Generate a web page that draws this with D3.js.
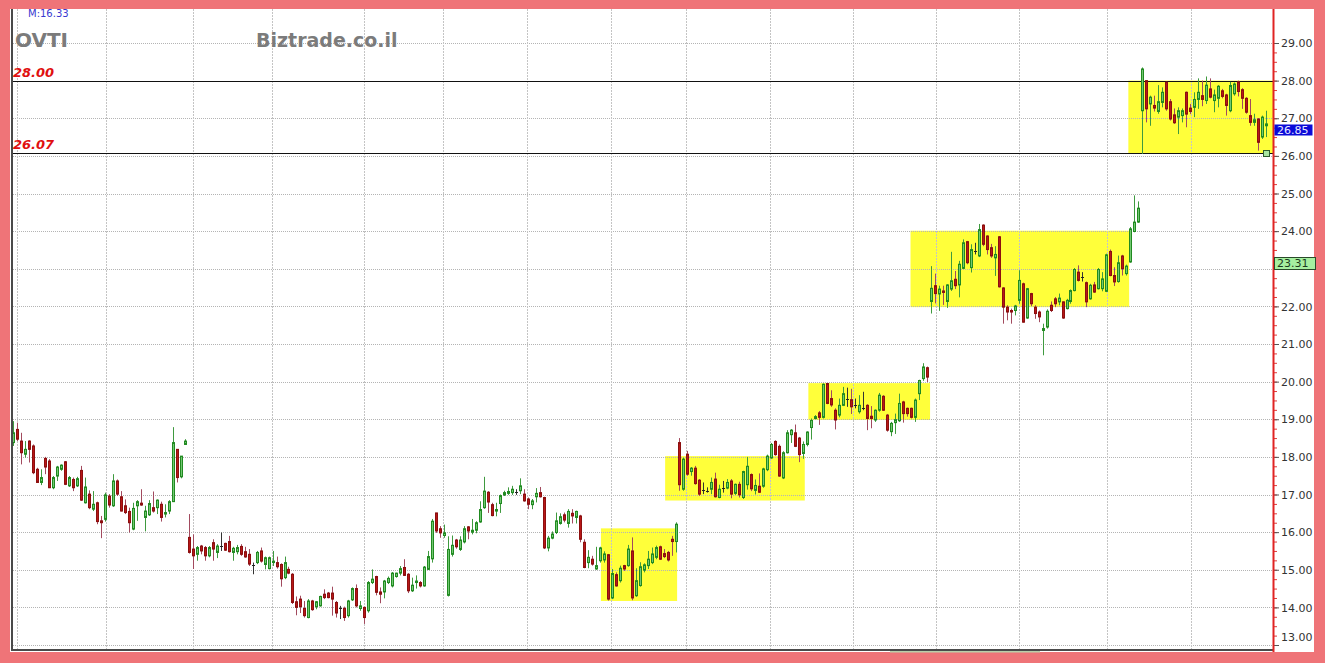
<!DOCTYPE html>
<html><head><meta charset="utf-8">
<script src="https://cdn.jsdelivr.net/npm/d3@7"></script>
<style>html,body{margin:0;padding:0;background:#ef7478;overflow:hidden}</style>
</head><body><svg id="c" width="1325" height="663"></svg>
<script>
// ---------- DATA ----------
const symbol = "OVTI";
const site = "Biztrade.co.il";
const avgLabel = "M:16.33";
const openP = [
18.38,18.73,18.42,18.07,18.42,18.29,17.67,17.32,17.96,17.89,17.18,17.49,17.67,17.87,17.23,17.40,17.23,17.64,16.78,17.01,
16.61,16.78,16.30,16.34,16.96,16.70,17.36,16.94,16.70,16.55,16.08,16.70,16.77,16.39,16.46,16.65,16.65,16.74,16.48,16.56,
16.81,18.20,17.47,18.33,15.86,15.55,15.41,15.63,15.59,15.37,15.72,15.46,15.63,15.70,15.75,15.46,15.48,15.62,15.48,15.41,
15.13,15.19,15.50,15.14,15.03,15.19,15.19,15.14,14.79,15.01,14.88,14.15,14.22,13.97,13.73,14.17,14.02,14.04,14.35,14.38,
14.38,14.13,13.97,13.97,13.78,14.20,14.50,13.97,14.00,13.91,14.66,14.82,14.41,14.41,14.66,14.57,14.82,14.91,15.06,14.88,
14.44,14.66,14.66,14.57,15.01,15.29,16.51,16.09,15.91,14.32,15.41,15.79,15.54,15.74,16.14,16.00,16.05,16.27,16.65,17.06,
16.73,16.56,16.76,16.99,17.03,17.05,17.07,17.10,17.01,16.88,16.73,16.94,17.05,16.92,15.58,15.84,15.99,16.23,16.46,16.23,
16.50,16.39,16.43,15.73,15.19,15.28,15.02,15.24,15.26,15.40,14.25,14.87,14.71,15.11,15.11,15.50,14.31,14.58,14.99,15.11,
15.19,15.33,15.61,15.43,15.46,15.81,15.75,18.38,17.14,18.07,17.61,17.70,17.38,17.13,17.10,17.14,17.41,16.92,17.17,17.17,
17.36,17.03,17.27,16.92,17.26,17.53,17.11,17.22,17.22,17.66,17.97,18.41,18.28,17.44,18.11,18.59,18.64,18.50,18.09,18.33,
18.78,19.02,19.17,19.05,19.95,19.55,19.24,19.11,19.37,19.55,19.52,19.38,19.20,19.31,19.37,19.08,18.98,19.24,19.61,19.11,
18.67,18.91,18.96,19.46,19.29,19.29,19.05,19.68,20.08,20.37,22.13,22.55,22.33,22.41,22.13,22.46,22.72,22.57,23.01,23.72,
23.03,23.49,23.34,24.16,23.87,23.56,23.29,23.85,22.49,21.98,21.89,21.89,22.16,22.60,21.69,22.34,21.98,21.85,21.36,21.45,
22.03,22.20,22.12,22.12,21.94,22.13,22.42,22.91,22.79,22.63,22.20,22.57,22.47,22.47,22.40,23.46,22.82,22.66,23.34,22.87,
23.18,23.99,24.24,27.20,28.00,27.38,27.34,27.18,27.42,27.96,27.44,27.09,27.03,27.07,27.69,27.27,27.29,27.50,27.60,27.47,
27.78,27.47,27.53,27.73,27.62,27.20,27.65,27.97,27.76,27.53,27.07,26.89,26.98,26.50,26.80];
const highP = [
18.95,18.91,18.64,18.42,18.44,18.33,17.71,17.67,18.00,17.94,17.49,17.76,17.80,17.89,17.49,17.45,17.47,17.76,17.45,17.11,
17.09,16.81,16.43,17.05,17.01,17.54,17.40,17.09,16.87,16.65,16.78,16.85,17.14,16.70,16.85,17.08,16.87,16.81,16.74,16.85,
18.79,18.20,18.02,18.47,16.48,15.94,15.63,15.66,15.63,15.63,15.81,15.68,15.99,15.72,15.90,15.61,15.66,15.68,15.61,15.55,
15.19,15.50,15.59,15.35,15.35,15.50,15.35,15.17,15.35,15.08,14.91,14.29,14.31,14.17,14.22,14.20,14.17,14.31,14.48,14.41,
14.55,14.17,14.04,14.02,14.20,14.53,14.61,14.17,14.02,14.70,15.01,14.84,14.53,14.73,14.82,14.94,14.92,15.10,15.28,14.91,
14.79,14.85,14.70,15.10,15.50,16.35,16.51,16.16,16.20,15.89,15.91,15.82,15.89,16.16,16.16,16.35,16.29,16.82,17.47,17.09,
16.78,16.78,17.00,17.10,17.19,17.23,17.14,17.43,17.14,16.92,16.88,17.17,17.20,16.94,15.90,16.02,16.52,16.50,16.52,16.61,
16.61,16.57,16.46,15.81,15.52,15.37,15.61,15.61,15.49,15.42,15.02,14.93,15.11,15.13,15.66,15.86,15.04,15.20,15.17,15.50,
15.59,15.64,15.64,15.55,15.50,15.90,16.26,18.50,17.98,18.16,17.73,17.76,17.41,17.32,17.19,17.45,17.58,17.26,17.36,17.41,
17.41,17.29,17.34,17.63,18.00,17.56,17.40,17.56,17.71,18.06,18.37,18.44,18.33,18.15,18.71,18.74,18.86,18.53,18.41,18.68,
19.02,19.11,19.22,19.95,19.96,19.77,19.29,19.55,19.86,19.84,19.81,19.55,19.64,19.73,19.40,19.35,19.26,19.70,19.64,19.14,
18.93,19.15,19.68,19.49,19.31,19.31,19.55,20.05,20.49,20.40,23.07,22.87,22.55,22.55,22.59,23.45,22.94,23.21,23.78,23.74,
23.65,23.69,24.19,24.18,23.89,23.66,23.60,23.87,22.51,22.03,21.94,22.04,22.96,22.63,22.49,22.36,22.03,21.89,21.54,21.92,
22.13,22.25,22.34,22.13,22.20,22.45,23.02,23.09,22.91,22.66,22.60,22.65,23.02,22.91,23.40,23.51,23.04,23.35,23.37,23.11,
24.11,24.95,24.79,28.35,28.00,27.60,27.60,27.88,27.82,27.97,27.51,27.26,27.29,27.26,27.71,27.38,27.69,28.06,28.00,28.11,
28.06,27.76,27.88,27.78,27.65,27.97,27.95,28.00,27.80,27.56,27.51,27.12,27.00,27.07,27.20];
const lowP = [
18.29,18.42,17.80,17.98,17.85,17.54,17.32,17.25,17.54,17.17,17.14,17.36,17.63,17.25,17.20,17.09,17.20,16.83,16.76,16.61,
16.56,16.21,15.84,16.28,16.65,16.67,16.96,16.55,16.48,15.99,16.05,16.30,16.70,16.02,16.43,16.52,16.48,16.28,16.39,16.48,
16.81,17.32,17.43,18.32,15.43,15.02,15.24,15.41,15.24,15.33,15.24,15.31,15.50,15.50,15.46,15.24,15.41,15.37,15.32,15.10,
14.88,15.15,15.19,15.01,15.01,15.10,15.03,14.55,14.75,14.88,14.09,13.79,13.85,13.73,13.71,13.91,13.95,14.02,14.22,14.24,
13.78,13.73,13.69,13.64,13.73,14.17,14.00,13.91,13.56,13.86,14.62,14.32,14.11,14.24,14.62,14.53,14.79,14.85,14.84,14.38,
14.41,14.50,14.53,14.55,15.00,15.19,15.98,15.85,15.85,14.29,15.35,15.56,15.50,15.70,15.81,15.94,15.97,16.25,16.62,16.51,
16.42,16.42,16.51,16.96,16.99,16.99,16.99,17.01,16.81,16.61,16.61,16.79,16.92,15.55,15.49,15.81,15.95,16.20,16.26,16.12,
16.23,16.23,15.73,15.04,15.04,15.11,15.00,15.19,15.19,14.18,14.22,14.55,14.66,14.97,15.08,14.19,14.28,14.55,14.93,15.02,
15.15,15.28,15.26,15.31,15.22,15.37,15.46,17.10,17.10,17.50,17.50,17.26,16.96,17.01,17.05,17.01,16.92,16.90,17.05,17.14,
16.90,16.99,16.92,16.88,17.13,17.09,17.00,17.04,17.18,17.62,17.95,18.03,17.47,17.41,18.09,18.37,18.26,17.86,17.95,18.28,
18.46,19.00,18.85,19.02,19.40,19.33,18.73,19.05,19.35,19.33,19.14,19.29,19.15,19.24,18.71,18.76,18.93,19.20,19.22,18.67,
18.55,18.61,18.93,18.91,19.07,19.02,18.93,19.51,20.02,19.99,21.81,22.08,21.88,22.04,21.96,22.41,22.46,22.24,22.99,23.12,
22.90,23.38,23.31,23.60,23.38,23.29,22.81,22.50,21.54,21.63,21.54,21.76,22.07,21.57,21.67,22.01,21.67,21.58,20.70,21.41,
21.85,21.98,22.03,21.67,21.92,22.07,22.40,22.66,22.66,21.98,22.18,22.36,22.45,22.40,22.38,22.80,22.54,22.63,22.82,22.82,
23.16,23.97,24.22,26.05,26.89,26.80,27.18,27.12,27.29,27.20,26.94,26.85,26.58,26.89,26.76,27.11,27.03,27.25,27.32,27.38,
27.53,27.16,27.29,27.53,27.07,27.16,27.60,27.58,27.25,27.12,26.80,26.80,26.14,26.45,26.50];
const closeP = [
18.64,18.47,18.11,18.20,18.20,17.58,17.32,17.45,17.73,17.18,17.45,17.73,17.78,17.27,17.45,17.18,17.42,16.85,17.20,16.65,
16.74,16.28,16.25,16.99,16.72,17.36,17.01,16.56,16.52,16.25,16.63,16.81,16.72,16.56,16.76,16.56,16.85,16.39,16.52,16.81,
18.38,17.45,18.02,18.42,15.46,15.37,15.59,15.50,15.37,15.59,15.55,15.63,15.62,15.52,15.48,15.57,15.59,15.41,15.34,15.15,
15.12,15.46,15.23,15.32,15.32,15.23,15.08,14.76,15.19,14.91,14.13,14.00,14.02,13.78,14.17,13.94,14.15,14.29,14.26,14.26,
14.22,13.85,14.00,13.73,14.17,14.50,14.04,14.04,13.73,14.66,14.75,14.40,14.35,14.70,14.77,14.91,14.91,15.03,14.85,14.44,
14.59,14.70,14.57,15.07,15.35,16.29,16.03,15.98,15.98,15.54,15.65,15.61,15.79,16.09,16.03,16.05,16.25,16.60,17.09,16.80,
16.44,16.60,16.97,17.05,17.08,17.14,17.08,17.23,16.83,16.74,16.83,17.03,16.94,15.58,15.84,15.95,16.30,16.41,16.32,16.55,
16.43,16.55,15.81,15.06,15.33,15.15,15.11,15.58,15.42,14.22,14.90,14.57,15.04,15.02,15.55,14.25,14.71,15.08,15.13,15.28,
15.42,15.59,15.28,15.35,15.26,15.75,16.21,17.26,17.94,17.54,17.70,17.29,17.01,17.12,17.09,17.32,16.94,17.14,17.15,17.32,
17.01,17.27,16.99,17.61,17.75,17.15,17.24,17.06,17.68,18.02,18.33,18.06,17.49,18.11,18.64,18.71,18.28,18.06,18.33,18.66,
18.97,19.07,19.05,19.93,19.42,19.38,18.98,19.37,19.68,19.53,19.33,19.36,19.37,19.30,19.02,19.02,19.24,19.64,19.24,18.71,
18.89,18.99,19.42,19.15,19.15,19.05,19.51,20.03,20.39,20.12,22.48,22.34,22.46,22.37,22.57,22.68,22.55,23.12,23.69,23.16,
23.51,23.48,24.04,23.65,23.51,23.34,23.38,22.52,21.98,21.85,21.85,22.01,22.69,21.58,22.47,22.07,21.81,21.72,21.41,21.87,
21.89,22.07,22.22,21.69,22.16,22.42,22.98,22.69,22.78,22.12,22.56,22.38,22.98,22.73,23.37,22.82,22.65,23.16,23.00,23.07,
24.06,24.24,24.61,28.31,27.25,27.56,27.27,27.44,27.69,27.25,26.98,26.88,27.20,27.20,27.11,27.18,27.50,27.69,27.50,27.88,
27.56,27.62,27.85,27.58,27.34,27.87,27.91,27.71,27.53,27.16,26.89,26.96,26.36,27.03,26.85];

const priceTicks = [13,14,15,16,17,18,19,20,21,22,23,24,25,26,27,28,29];
const levelLines = [28.00, 26.07];
// highlighted zones (in trading-day units and price)
const zoneStart = [148.3, 164.4, 200.3, 225.9, 280.5];
const zoneEnd   = [167.4, 199.4, 230.8, 280.7, 316.8];
const zoneLow   = [14.17, 16.84, 18.98, 21.98, 26.07];
const zoneHigh  = [16.10, 18.02, 19.96, 24.01, 28.00];
// trading days where a new month starts (vertical grid)
const monthStartDay = [1.95, 24.3, 46.1, 65.9, 88.9, 108.7, 129.8, 150.9, 169.6, 190.7, 211.5, 232.3, 253.2, 275.1, 296.2];
const lastPrice = 26.85;
const refPrice = 23.31;

// ---------- CHART ----------
const n = openP.length;
if (highP.length !== n || lowP.length !== n || closeP.length !== n) {
  throw new Error("length mismatch " + [openP.length, highP.length, lowP.length, closeP.length].join(","));
}
const days = d3.range(1, n + 1);

const W = 1325, H = 663;
const plotL = 12, plotR = 1273, plotT = 9, plotB = 650;
const svg = d3.select("#c");
const FONT = "DejaVu Sans, Verdana, sans-serif";

const x = d3.scaleLinear().domain([1, n]).range([13.2, 1266]);
const y = d3.scaleLinear().domain([13, 29]).range([645, 43]);

svg.append("rect").attr("width", W).attr("height", H).attr("fill", "#ef7478");
svg.append("rect").attr("x", 10).attr("y", plotT).attr("width", 1304).attr("height", 643).attr("fill", "#ffffff");

// zones
svg.append("g").selectAll("rect").data(zoneStart).join("rect")
  .attr("x", (d) => x(d))
  .attr("width", (d, i) => Math.min(x(zoneEnd[i]), plotR) - x(d))
  .attr("y", (d, i) => y(zoneHigh[i]))
  .attr("height", (d, i) => y(zoneLow[i]) - y(zoneHigh[i]))
  .attr("fill", "#ffff3a");

// grid
const grid = svg.append("g");
grid.selectAll("line.h").data(priceTicks).join("line")
  .attr("x1", plotL + 1).attr("x2", plotR)
  .attr("y1", (d) => Math.round(y(d)) + 0.5).attr("y2", (d) => Math.round(y(d)) + 0.5)
  .attr("stroke", "#b4b4b4").attr("stroke-dasharray", "1,1");
grid.selectAll("line.v").data(monthStartDay).join("line")
  .attr("x1", (d) => Math.round(x(d)) + 0.5).attr("x2", (d) => Math.round(x(d)) + 0.5)
  .attr("y1", plotT).attr("y2", plotB)
  .attr("stroke", "#c4c4c4").attr("stroke-dasharray", "2,1");

// level lines
svg.append("g").selectAll("line").data(levelLines).join("line")
  .attr("x1", plotL).attr("x2", plotR)
  .attr("y1", (d) => Math.round(y(d)) + 0.5).attr("y2", (d) => Math.round(y(d)) + 0.5)
  .attr("stroke", "#111").attr("stroke-width", 1);

// candles
const kind = (i) => Math.abs(closeP[i] - openP[i]) < 0.03 ? "doji" : (closeP[i] > openP[i] ? "up" : "down");
const wickCol = { up: "#3f9a3f", down: "#a24a5e", doji: "#333" };
const bodyFill = { up: "#72c872", down: "#b81717", doji: "#333" };
const bodyStroke = { up: "#218a21", down: "#8c0f0f", doji: "#333" };
const cg = svg.append("g");
days.forEach((dd, i) => {
  const cx = Math.round(x(dd)) + 0.5;
  const k = kind(i);
  cg.append("line").attr("x1", cx).attr("x2", cx)
    .attr("y1", y(highP[i])).attr("y2", y(lowP[i]))
    .attr("stroke", wickCol[k]).attr("stroke-width", 1);
  const yt = y(Math.max(openP[i], closeP[i])), yb = y(Math.min(openP[i], closeP[i]));
  if (k === "doji") {
    cg.append("line").attr("x1", cx - 1.5).attr("x2", cx + 1.5)
      .attr("y1", Math.round((yt + yb) / 2) + 0.5).attr("y2", Math.round((yt + yb) / 2) + 0.5)
      .attr("stroke", "#222").attr("stroke-width", 1);
  } else {
    cg.append("rect").attr("x", cx - 1).attr("width", 2)
      .attr("y", yt).attr("height", Math.max(1, yb - yt))
      .attr("fill", bodyFill[k]).attr("stroke", bodyStroke[k]).attr("stroke-width", 1);
  }
});

// marker at last day on lower level
svg.append("rect").datum(levelLines[1])
  .attr("x", Math.round(x(n)) - 3 + 0.5).attr("y", (d) => Math.round(y(d)) - 3 + 0.5)
  .attr("width", 6).attr("height", 6).attr("fill", "#a8e6a0").attr("stroke", "#2d5a2d");

// frame lines
svg.append("line").attr("x1", plotL).attr("x2", plotL).attr("y1", plotT).attr("y2", plotB + 1)
  .attr("stroke", "#4a4a4a").attr("stroke-width", 2);
svg.append("line").attr("x1", plotL - 1).attr("x2", plotR).attr("y1", plotB).attr("y2", plotB)
  .attr("stroke", "#4a4a4a").attr("stroke-width", 2);
svg.append("rect").attr("x", 890).attr("y", plotB + 1).attr("width", 150).attr("height", 1.5).attr("fill", "#b9cfa9");

// right axis
const minor = d3.range(13, 29.01, 0.25);
const minorAxis = d3.axisRight(y).tickValues(minor).tickFormat("").tickSize(3);
const mg = svg.append("g").attr("transform", `translate(${plotR + 1},0)`).call(minorAxis);
mg.select(".domain").remove();
mg.selectAll("line").attr("stroke", "#e03a3a");

// the reference label box covers most of the tick label next to it, so that label is skipped
const refTick = Math.round(refPrice);
const axis = d3.axisRight(y).tickValues(priceTicks).tickFormat((d) => d === refTick ? "" : d3.format(".2f")(d)).tickSize(5).tickPadding(2);
const ag = svg.append("g").attr("transform", `translate(${plotR + 1},0)`).call(axis);
ag.select(".domain").remove();
ag.selectAll("line").attr("stroke", "#555");
ag.selectAll("text").attr("font-family", FONT).attr("font-size", 11)
  .attr("fill", "#333").attr("dy", (d) => d === 13 ? "-0.45em" : "0.33em").attr("y", 0);

svg.append("line").attr("x1", plotR + 0.5).attr("x2", plotR + 0.5).attr("y1", plotT).attr("y2", plotB + 2)
  .attr("stroke", "#e02424").attr("stroke-width", 2);

// price boxes
function priceBox(v, bg, fg, border) {
  const g = svg.append("g").attr("transform", `translate(${plotR + 1},${Math.round(y(v))})`);
  g.append("rect").attr("x", 0.5).attr("y", 0.5).attr("width", border ? 41 : 38).attr("height", border ? 12 : 11)
    .attr("fill", bg).attr("stroke", border || "none");
  g.append("text").attr("x", 3).attr("y", 10).text(d3.format(".2f")(v))
    .attr("font-family", FONT).attr("font-size", 11).attr("fill", fg);
}
priceBox(lastPrice, "#0a0ad8", "#e8e8ff", null);
priceBox(refPrice, "#a6f0a0", "#1c3a1c", "#2a4a2a");

// level labels
svg.append("g").selectAll("text").data(levelLines).join("text")
  .attr("x", 13).attr("y", (d) => y(d) - 4)
  .text((d) => d3.format(".2f")(d))
  .attr("font-family", FONT).attr("font-size", 13)
  .attr("font-weight", "bold").attr("font-style", "italic").attr("fill", "#e01010");

// titles
svg.append("text").attr("x", 15).attr("y", 47).text(symbol)
  .attr("font-family", FONT).attr("font-size", 20).attr("font-weight", "bold").attr("fill", "#7b7b7b");
svg.append("text").attr("x", 256).attr("y", 47).text(site)
  .attr("font-family", FONT).attr("font-size", 19).attr("font-weight", "bold").attr("fill", "#7b7b7b");
svg.append("text").attr("x", 28).attr("y", 17).text(avgLabel)
  .attr("font-family", FONT).attr("font-size", 10).attr("fill", "#3838d0");

// top frame band over clipped text
svg.append("rect").attr("x", 0).attr("y", 0).attr("width", W).attr("height", plotT).attr("fill", "#ef7478");
</script>
</body></html>
